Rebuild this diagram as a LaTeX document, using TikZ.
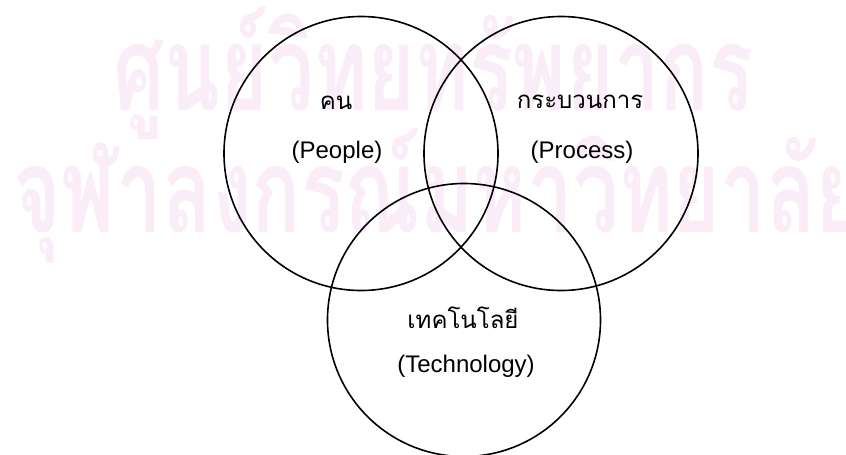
\documentclass[tikz,border=0pt]{standalone}
\usepackage{fontspec}
\setmainfont{Liberation Sans}
\newfontfamily\thaifont[Script=Thai]{Loma}
\definecolor{wmpink}{RGB}{251,237,248}
\tikzset{
  ring/.style={circle, draw=black, line width=1.6pt, minimum size=274pt, inner sep=0pt},
  thlabel/.style={anchor=base, inner sep=0pt, font=\thaifont\fontsize{24}{28}\selectfont},
  enlabel/.style={anchor=base, inner sep=0pt, font=\fontsize{24}{28}\selectfont},
  wmark/.style={anchor=base west, inner sep=0pt, text=wmpink, font=\thaifont\bfseries\fontsize{118}{120}\selectfont}
}
\begin{document}
\begin{tikzpicture}[x=1pt,y=-1pt]
\useasboundingbox (0,0) rectangle (846,455);
% watermark
\node[wmark] (wm1) at (113,110) {\scalebox{0.69}[1]{ศูนย์วิทยทรัพยากร}};
\node[wmark] (wm2) at (13,232) {\scalebox{0.69}[1]{จุฬาลงกรณ์มหาวิทยาลัย}};
% circles
\node[ring] (people) at (361,153.5) {};
\node[ring] (process) at (561,153.5) {};
\node[ring, minimum size=273pt] (tech) at (464,320) {};
% labels
\node[thlabel] (peopleth) at (336,109) {คน};
\node[enlabel] (peopleen) at (337,158) {(People)};
\node[thlabel] (processth) at (580,108) {กระบวนการ};
\node[enlabel] (processen) at (582,158) {(Process)};
\node[thlabel] (techth) at (463,328) {เทคโนโลยี};
\node[enlabel] (techen) at (466,372) {(Technology)};
\end{tikzpicture}
\end{document}
